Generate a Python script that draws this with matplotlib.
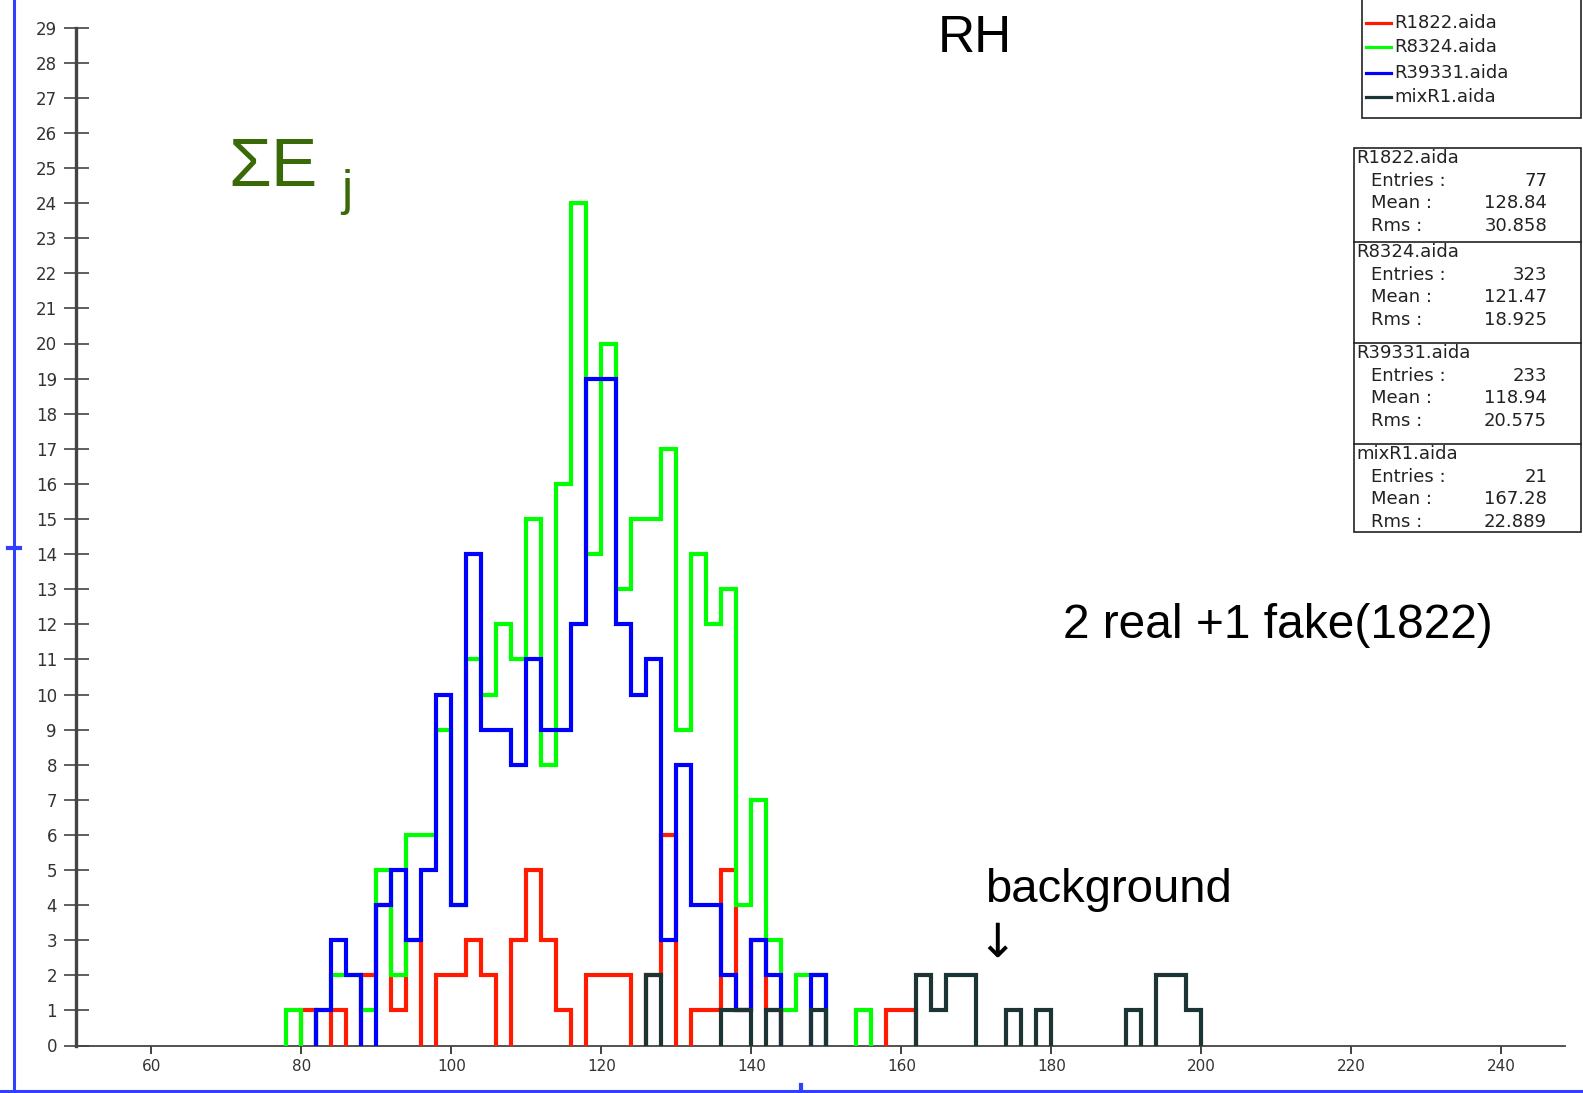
import numpy as np
import matplotlib
matplotlib.use("Agg")
import matplotlib.pyplot as plt
from matplotlib.lines import Line2D
from matplotlib.patches import Rectangle

# ---------------- data (counts per 2-unit bin, bins start at 78) ----------------
BIN_START = 78
BIN_WIDTH = 2
red_counts = [0, 1, 0, 1, 0, 2, 4, 1, 3, 0,
              2, 2, 3, 2, 0, 3, 5, 3, 1, 0,
              2, 2, 2, 0, 2, 6, 0, 1, 1, 5,
              1, 3, 1, 0, 0, 0, 0, 0, 0, 0,
              1, 1, 0, 0, 0, 0, 0, 0, 0, 0,
              0, 0, 0, 0, 0, 0, 0, 0, 0, 0, 0]
green_counts = [1, 0, 1, 2, 2, 1, 5, 2, 6, 6,
                9, 4, 11, 10, 12, 11, 15, 8, 16, 24,
                14, 20, 13, 15, 15, 17, 9, 14, 12, 13,
                4, 7, 3, 1, 2, 2, 0, 0, 1, 0,
                0, 0, 0, 0, 0, 0, 0, 0, 0, 0,
                0, 0, 0, 0, 0, 0, 0, 0, 0, 0, 0]
blue_counts = [0, 0, 1, 3, 2, 0, 4, 5, 3, 5,
               10, 4, 14, 9, 9, 8, 11, 9, 9, 12,
               19, 19, 12, 10, 11, 3, 8, 4, 4, 2,
               1, 3, 2, 0, 0, 2, 0, 0, 0, 0,
               0, 0, 0, 0, 0, 0, 0, 0, 0, 0,
               0, 0, 0, 0, 0, 0, 0, 0, 0, 0, 0]
dark_counts = [0, 0, 0, 0, 0, 0, 0, 0, 0, 0,
               0, 0, 0, 0, 0, 0, 0, 0, 0, 0,
               0, 0, 0, 0, 2, 0, 0, 0, 0, 1,
               1, 0, 1, 0, 0, 1, 0, 0, 0, 0,
               0, 0, 2, 1, 2, 2, 0, 0, 1, 0,
               1, 0, 0, 0, 0, 0, 1, 0, 2, 2, 1]

series_names = ["R1822.aida", "R8324.aida", "R39331.aida", "mixR1.aida"]
series_colors = ["#ff1a00", "#00ff00", "#0000ff", "#1c3434"]
stat_entries = ["77", "323", "233", "21"]
stat_means = ["128.84", "121.47", "118.94", "167.28"]
stat_rms = ["30.858", "18.925", "20.575", "22.889"]

x_ticks = [60, 80, 100, 120, 140, 160, 180, 200, 220, 240]
y_ticks = list(range(0, 30))

# ---------------- figure ----------------
W, H = 1583, 1093
fig = plt.figure(figsize=(W / 100, H / 100), dpi=100)
fig.patch.set_facecolor("white")


def fx(px):
    return px / W


def fy(py):
    return 1 - py / H


ax_left, ax_right = 76.4, 1565.0
ax_bottom, ax_top = 1045.5, 27.6
ax = fig.add_axes([fx(ax_left), fy(ax_bottom), (ax_right - ax_left) / W,
                   (ax_bottom - ax_top) / H])
ax.set_facecolor("none")
ax.set_xlim(50, 50 + (ax_right - ax_left) / 7.5)
ax.set_ylim(0, 29)

edges = BIN_START + BIN_WIDTH * np.arange(len(red_counts) + 1)
all_counts = [red_counts, green_counts, blue_counts, dark_counts]
for z, (counts, col) in enumerate(zip(all_counts, series_colors)):
    vals = np.array(counts, dtype=float)
    vals[vals == 0] = np.nan
    ax.stairs(vals, edges, baseline=0, color=col, linewidth=3.0,
              joinstyle="miter", capstyle="butt", zorder=3 + z)

for s in ["top", "right"]:
    ax.spines[s].set_visible(False)
ax.spines["left"].set_color("#444444")
ax.spines["left"].set_linewidth(2.4)
ax.spines["bottom"].set_color("#444444")
ax.spines["bottom"].set_linewidth(1.3)
ax.spines["left"].set_zorder(2)
ax.spines["bottom"].set_zorder(2)

ax.set_yticks(y_ticks)
ax.set_yticklabels([str(v) for v in y_ticks])
ax.set_xticks(x_ticks)
ax.set_xticklabels([str(v) for v in x_ticks])
ax.tick_params(axis="y", direction="inout", length=18, width=1.1,
               colors="#333333", labelsize=12, pad=5)
ax.tick_params(axis="x", direction="out", length=6, width=1.3,
               colors="#333333", labelsize=11, pad=4)

# ---------------- annotations ----------------
fig.text(fx(975), fy(38), "RH", ha="center", va="center", fontsize=37,
         family="Liberation Sans", color="black")
fig.text(fx(228), fy(168), "\u03a3E", ha="left", va="center", fontsize=50,
         family="Liberation Sans", color="#3a6a08")
fig.text(fx(341), fy(192), "j", ha="left", va="center", fontsize=36,
         family="Liberation Sans", color="#3a6a08")
fig.text(fx(1278), fy(625), "2 real +1 fake(1822)", ha="center", va="center",
         fontsize=34.5, family="Liberation Sans", color="black")
fig.text(fx(1108), fy(890), "background", ha="center", va="center",
         fontsize=34, family="Liberation Sans", color="black")
fig.text(fx(997), fy(944), "\u2193", ha="center", va="center",
         fontsize=34, family="DejaVu Sans", color="black")

# ---------------- legend box ----------------
fig.add_artist(Rectangle((fx(1362), fy(118)), fx(1581) - fx(1362),
                         fy(-5) - fy(118), transform=fig.transFigure,
                         facecolor="white", edgecolor="#222222", lw=1.2))
leg_y = [22.7, 46.7, 73.3, 97.3]
for name, col, yy in zip(series_names, series_colors, leg_y):
    fig.add_artist(Line2D([fx(1366), fx(1391)], [fy(yy), fy(yy)],
                          color=col, lw=2.3, transform=fig.transFigure))
    fig.text(fx(1394), fy(yy), name, ha="left", va="center", fontsize=13,
             family="DejaVu Sans", color="#222222")

# ---------------- statistics box ----------------
box_top, box_bot = 148.4, 532.0
seps = [242.3, 343.3, 444.2]
fig.add_artist(Rectangle((fx(1354), fy(box_bot)), fx(1581) - fx(1354),
                         fy(box_top) - fy(box_bot), transform=fig.transFigure,
                         facecolor="white", edgecolor="#222222", lw=1.2,
                         zorder=1))
for s in seps:
    fig.add_artist(Line2D([fx(1354), fx(1581)], [fy(s), fy(s)],
                          color="#222222", lw=1.2, transform=fig.transFigure))
sec_tops = [box_top] + seps
for i, top in enumerate(sec_tops):
    base = top + 10
    fig.text(fx(1356), fy(base), series_names[i], ha="left", va="center",
             fontsize=13, family="DejaVu Sans", color="#222222")
    labels = ["Entries :", "Mean :", "Rms :"]
    values = [stat_entries[i], stat_means[i], stat_rms[i]]
    for k, (lab, val) in enumerate(zip(labels, values)):
        yy = base + 22.5 * (k + 1)
        fig.text(fx(1371), fy(yy), lab, ha="left", va="center",
                 fontsize=13, family="DejaVu Sans", color="#222222")
        fig.text(fx(1547), fy(yy), val, ha="right", va="center",
                 fontsize=13, family="DejaVu Sans", color="#222222")

# ---------------- outer blue frame ----------------
fig.add_artist(Line2D([fx(14), fx(14)], [fy(0), fy(1093)], color="#3040ff",
                      lw=2.2, transform=fig.transFigure))
fig.add_artist(Line2D([fx(8), fx(20)], [fy(548), fy(548)], color="#3040ff",
                      lw=3.0, transform=fig.transFigure))
fig.add_artist(Line2D([fx(0), fx(1583)], [fy(1091), fy(1091)], color="#3040ff",
                      lw=2.2, transform=fig.transFigure))
fig.add_artist(Line2D([fx(801), fx(801)], [fy(1085), fy(1093)], color="#3040ff",
                      lw=3.0, transform=fig.transFigure))

fig.savefig("out.png", dpi=100)
